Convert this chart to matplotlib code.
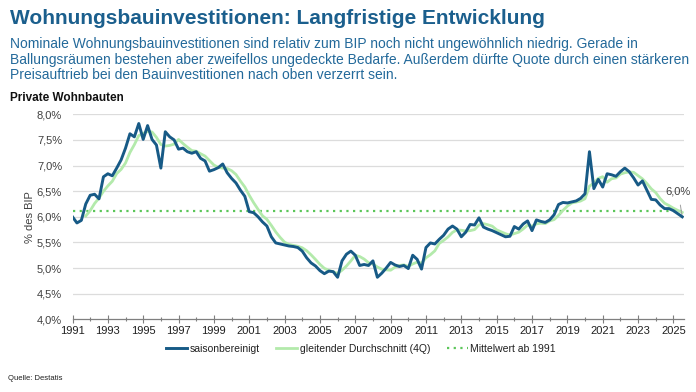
import matplotlib
matplotlib.use("Agg")
import matplotlib.pyplot as plt
import numpy as np
import pandas as pd
from matplotlib.ticker import MultipleLocator, FuncFormatter

plt.rcParams['font.family'] = ['Liberation Sans', 'DejaVu Sans']

# ---- data: quarterly, 1991Q1 .. 2025Q3 (% des BIP) ----
start_year = 1991
saisonbereinigt = [
    6.00, 5.88, 5.93, 6.25,   # 1991
    6.42, 6.44, 6.35, 6.78,   # 1992
    6.84, 6.80, 6.95, 7.11,   # 1993
    7.34, 7.62, 7.56, 7.82,   # 1994
    7.51, 7.78, 7.51, 7.40,   # 1995
    6.95, 7.66, 7.56, 7.50,   # 1996
    7.32, 7.34, 7.27, 7.24,   # 1997
    7.27, 7.14, 7.09, 6.89,   # 1998
    6.92, 6.96, 7.03, 6.86,   # 1999
    6.75, 6.66, 6.52, 6.40,   # 2000
    6.10, 6.08, 6.00, 5.90,   # 2001
    5.82, 5.61, 5.49, 5.47,   # 2002
    5.45, 5.43, 5.42, 5.40,   # 2003
    5.33, 5.20, 5.10, 5.04,   # 2004
    4.95, 4.89, 4.94, 4.93,   # 2005
    4.82, 5.14, 5.27, 5.33,   # 2006
    5.25, 5.05, 5.07, 5.05,   # 2007
    5.14, 4.82, 4.90, 5.00,   # 2008
    5.11, 5.06, 5.03, 5.05,   # 2009
    4.99, 5.25, 5.17, 4.98,   # 2010
    5.40, 5.49, 5.47, 5.56,   # 2011
    5.64, 5.76, 5.82, 5.76,   # 2012
    5.61, 5.70, 5.85, 5.84,   # 2013
    5.98, 5.80, 5.76, 5.73,   # 2014
    5.69, 5.65, 5.61, 5.62,   # 2015
    5.81, 5.76, 5.86, 5.92,   # 2016
    5.73, 5.94, 5.91, 5.89,   # 2017
    5.94, 6.04, 6.24, 6.28,   # 2018
    6.27, 6.29, 6.31, 6.36,   # 2019
    6.45, 7.27, 6.55, 6.73,   # 2020
    6.58, 6.84, 6.82, 6.79,   # 2021
    6.88, 6.95, 6.88, 6.76,   # 2022
    6.62, 6.70, 6.52, 6.34,   # 2023
    6.33, 6.23, 6.16, 6.16,   # 2024
    6.12, 6.06, 6.00,         # 2025
]
mittelwert = 6.12
last_label = "6,0%"
x_tick_years = list(range(1991, 2026, 2))
y_ticks = [4.0, 4.5, 5.0, 5.5, 6.0, 6.5, 7.0, 7.5, 8.0]
legend_labels = ["saisonbereinigt", "gleitender Durchschnitt (4Q)", "Mittelwert ab 1991"]

s = pd.Series(saisonbereinigt)
x = start_year + np.arange(len(s)) / 4.0
gleitend = s.rolling(4).mean()

# ---- colors ----
c_blue = "#175a86"
c_green = "#b3eaab"
c_dot = "#5cc65a"
c_title = "#1b5f8d"
c_sub = "#23699a"
c_text = "#404040"

fig = plt.figure(figsize=(6.96, 3.92), dpi=100)

W, H = 696, 392
ax_left, ax_right = 72.5, 684
ax_top, ax_bot = 114.3, 319.3
ax = fig.add_axes([ax_left / W, 1 - ax_bot / H, (ax_right - ax_left) / W, (ax_bot - ax_top) / H])

ax.plot(x, gleitend, color=c_green, lw=2.0, label=legend_labels[1], zorder=3)
ax.plot(x, s, color=c_blue, lw=2.1, label=legend_labels[0], zorder=4)
ax.axhline(mittelwert, color=c_dot, lw=1.6, ls=(0, (1, 2)), label=legend_labels[2], zorder=2)

ax.set_xlim(1991, 2025.6)
ax.set_ylim(4.0, 8.0)
ax.set_yticks(y_ticks)
ax.yaxis.set_major_formatter(FuncFormatter(lambda v, p: f"{v:.1f}%".replace(".", ",")))
ax.set_xticks(x_tick_years)
ax.set_xticklabels([str(y) for y in x_tick_years])
ax.xaxis.set_minor_locator(MultipleLocator(1))

for yv in y_ticks[1:]:
    ax.axhline(yv, color="#dcdcdc", lw=0.9, zorder=1)

for sp in ["top", "right", "left"]:
    ax.spines[sp].set_visible(False)
ax.spines["bottom"].set_color("#7f7f7f")
ax.spines["bottom"].set_linewidth(0.9)

ax.tick_params(axis="y", length=0, labelsize=8, labelcolor=c_text, pad=7.5)
ax.tick_params(axis="x", which="major", direction="inout", length=6, width=0.8,
               color="#7f7f7f", labelsize=8, labelcolor="#202020", pad=2)
ax.tick_params(axis="x", which="minor", direction="inout", length=3, width=0.8, color="#7f7f7f")

ax.set_ylabel("% des BIP", fontsize=8, color=c_text)
ax.yaxis.set_label_coords((35 - ax_left) / (ax_right - ax_left), 0.5)

ax.annotate(last_label, xy=(x[-1], saisonbereinigt[-1]), xytext=(-4, 25),
            textcoords="offset pixels", ha="center", va="center", fontsize=8,
            color=c_text,
            arrowprops=dict(arrowstyle="-", color="#a0a0a0", lw=0.7, shrinkA=4, shrinkB=1))

# legend
h, l = ax.get_legend_handles_labels()
order = [l.index(t) for t in legend_labels]
fig.legend([h[i] for i in order], [l[i] for i in order], loc="center",
           bbox_to_anchor=(361 / W, 1 - 349 / H), ncol=3, frameon=False, fontsize=7.5,
           handlelength=2.0, columnspacing=1.6, handletextpad=0.25, labelcolor="#202020")

# texts
fig.text(10 / W, 1 - 19 / H, "Wohnungsbauinvestitionen: Langfristige Entwicklung",
         fontsize=15, fontweight="bold", color=c_title, ha="left", va="center")
sub = ("Nominale Wohnungsbauinvestitionen sind relativ zum BIP noch nicht ungewöhnlich niedrig. Gerade in\n"
       "Ballungsräumen bestehen aber zweifellos ungedeckte Bedarfe. Außerdem dürfte Quote durch einen stärkeren\n"
       "Preisauftrieb bei den Bauinvestitionen nach oben verzerrt sein.")
fig.text(10 / W, 1 - 37 / H, sub, fontsize=10, color=c_sub, ha="left", va="top", linespacing=1.15)
fig.text(10 / W, 1 - 98 / H, "Private Wohnbauten", fontsize=8.5, fontweight="bold",
         color="#111111", ha="left", va="center")
fig.text(8 / W, 1 - 378 / H, "Quelle: Destatis", fontsize=5.5, color="#202020", ha="left", va="center")

fig.savefig("out.png", dpi=100)
